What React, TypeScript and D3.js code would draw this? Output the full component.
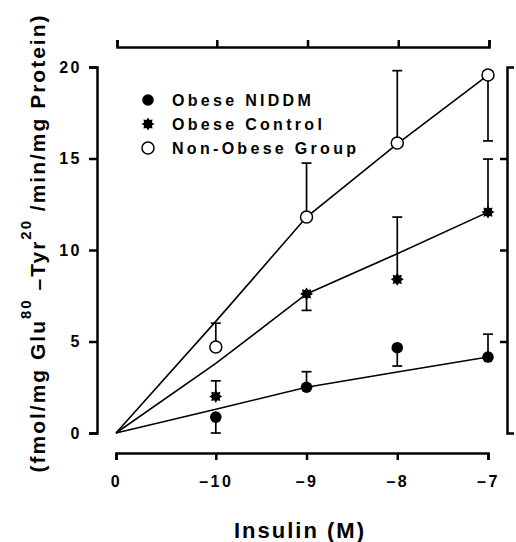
import { useEffect, useRef } from "react";
import { select, scaleLinear, axisLeft, axisBottom, axisTop, line, lineRadial, curveLinearClosed } from "d3";

// insulin doses (log M); the "0" point is drawn at an axis break
const doses = [-10, -9, -8, -7];
const xTickLabels = ["0", "–10", "–9", "–8", "–7"];
const ORIGIN = -11.1;
const yTicks = [0, 5, 10, 15, 20];

// means and signed SEM (sign = direction the bar is drawn)
const niddmMean = [0.87, 2.5, 4.66, 4.15];
const niddmErr = [-0.87, 0.85, -1.0, 1.25];
const controlMean = [2.0, 7.6, 8.4, 12.07];
const controlErr = [0.85, -0.9, 3.4, 2.9];
const nonObeseMean = [4.7, 11.8, 15.85, 19.56];
const nonObeseErr = [1.3, 2.95, 3.95, -3.6];

// fitted lines, starting at the origin
const niddmFit = [0, 1.3, 2.5, 3.33, 4.15];
const controlFit = [0, 3.8, 7.6, 9.8, 12.07];
const nonObeseFit = [0, 6.1, 11.8, 15.8, 19.56];

const legendLabels = ["Obese NIDDM", "Obese Control", "Non-Obese Group"];

const FONT = "'Liberation Sans', Arial, sans-serif";

const x = scaleLinear().domain([ORIGIN, -7]).range([116, 488]);
const y = scaleLinear().domain([0, 20]).range([433, 67]);
const xAll = [ORIGIN, ...doses];

const starPath = (() => {
  const pts: [number, number][] = [];
  for (let i = 0; i < 16; i++) pts.push([(i * Math.PI) / 8, i % 2 === 0 ? 6.5 : 4.2]);
  return lineRadial().curve(curveLinearClosed)(pts) as string;
})();

type Kind = "filled" | "star" | "open";

const Marker = ({ kind, cx, cy }: { kind: Kind; cx: number; cy: number }) => {
  if (kind === "filled") return <circle cx={cx} cy={cy} r={5.8} fill="#000" />;
  if (kind === "star") return <path d={starPath} transform={`translate(${cx},${cy})`} fill="#000" />;
  return <circle cx={cx} cy={cy} r={6} fill="#fff" stroke="#000" strokeWidth={1.5} />;
};

const Series = ({ mean, err, fit, kind }: { mean: number[]; err: number[]; fit: number[]; kind: Kind }) => {
  const path = line<number>()
    .x((_, i) => x(xAll[i]))
    .y((d) => y(d))(fit) as string;
  return (
    <g>
      <path d={path} fill="none" stroke="#000" strokeWidth={1.6} />
      {doses.map((d, i) => {
        const cx = x(d);
        const y0 = y(mean[i]);
        const y1 = y(mean[i] + err[i]);
        return (
          <g key={d} stroke="#000" strokeWidth={1.7}>
            <line x1={cx} x2={cx} y1={y0} y2={y1} />
            <line x1={cx - 5} x2={cx + 5} y1={y1} y2={y1} />
          </g>
        );
      })}
      {doses.map((d, i) => (
        <Marker key={d} kind={kind} cx={x(d)} cy={y(mean[i])} />
      ))}
    </g>
  );
};

export default function App() {
  const leftRef = useRef<SVGGElement>(null);
  const rightRef = useRef<SVGGElement>(null);
  const bottomRef = useRef<SVGGElement>(null);
  const topRef = useRef<SVGGElement>(null);

  useEffect(() => {
    const style = (g: any) => {
      g.selectAll("path, line").attr("stroke", "#000").attr("stroke-width", 2.5);
      g.selectAll("text")
        .attr("font-family", FONT)
        .attr("font-weight", "bold")
        .attr("font-size", 16)
        .attr("letter-spacing", 2.5)
        .attr("fill", "#000");
    };
    select(leftRef.current!)
      .call(axisLeft(y).tickValues(yTicks).tickSize(8).tickSizeOuter(8).tickPadding(7) as any)
      .call(style);
    select(rightRef.current!)
      .call(axisLeft(y).tickValues([5, 10, 15]).tickSize(7).tickSizeOuter(-7).tickFormat(() => "") as any)
      .call(style);
    select(bottomRef.current!)
      .call(
        axisBottom(x)
          .tickValues(xAll)
          .tickSize(7)
          .tickSizeOuter(7)
          .tickPadding(16)
          .tickFormat((_, i) => xTickLabels[i]) as any
      )
      .call(style);
    select(topRef.current!)
      .call(axisTop(x).tickValues(xAll).tickSize(7).tickSizeOuter(7).tickFormat(() => "") as any)
      .call(style);
  }, []);

  const kinds: Kind[] = ["filled", "star", "open"];

  return (
    <svg width={516} height={542} style={{ position: "absolute", left: 0, top: 0, background: "#fff" }}>
      <g ref={leftRef} transform="translate(97,0)" />
      <g ref={rightRef} transform="translate(507,0)" />
      <g ref={bottomRef} transform="translate(0,453)" />
      <g ref={topRef} transform="translate(1,47)" />

      <Series mean={nonObeseMean} err={nonObeseErr} fit={nonObeseFit} kind="open" />
      <Series mean={controlMean} err={controlErr} fit={controlFit} kind="star" />
      <Series mean={niddmMean} err={niddmErr} fit={niddmFit} kind="filled" />

      {legendLabels.map((lab, i) => (
        <g key={lab} transform={`translate(0,${100 + i * 24})`}>
          <Marker kind={kinds[i]} cx={148} cy={0} />
          <text
            x={172}
            y={6}
            fontFamily={FONT}
            fontWeight="bold"
            fontSize={16}
            letterSpacing={3.3}
            fill="#000"
          >
            {lab}
          </text>
        </g>
      ))}

      <text
        x={300}
        y={538}
        textAnchor="middle"
        fontFamily={FONT}
        fontWeight="bold"
        fontSize={22}
        letterSpacing={2}
        fill="#000"
      >
        Insulin (M)
      </text>

      <text
        transform="translate(45,243) rotate(-90)"
        textAnchor="middle"
        fontFamily={FONT}
        fontWeight="bold"
        fontSize={21}
        letterSpacing={2}
        fill="#000"
      >
        (fmol/mg Glu
        <tspan dy={-14} fontSize={15}>80</tspan>
        <tspan dy={14}> –Tyr</tspan>
        <tspan dy={-14} fontSize={15}>20</tspan>
        <tspan dy={14}> /min/mg Protein)</tspan>
      </text>
    </svg>
  );
}
